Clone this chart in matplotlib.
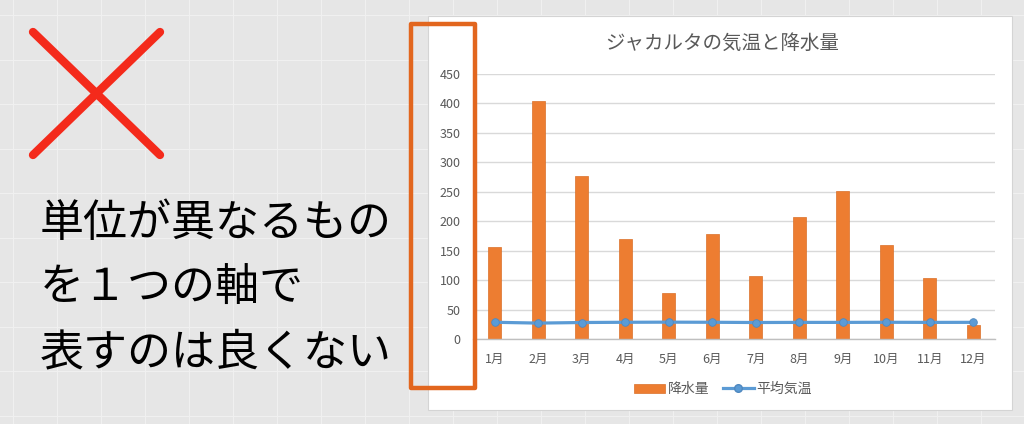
import numpy as np
import matplotlib
import matplotlib.pyplot as plt
from matplotlib.lines import Line2D
from matplotlib.patches import Patch, Rectangle

matplotlib.use("Agg")
plt.rcParams["font.family"] = ["Noto Sans CJK JP", "DejaVu Sans"]

W, H = 1024, 424

# data
months = ["1月", "2月", "3月", "4月", "5月", "6月", "7月", "8月", "9月", "10月", "11月", "12月"]
rain = [157, 405, 277, 169, 78, 178, 107, 208, 252, 159, 104, 23]
temp = [28.4, 27.0, 28.0, 28.4, 28.6, 28.4, 28.0, 28.2, 28.2, 28.4, 28.2, 28.3]
yticks = [0, 50, 100, 150, 200, 250, 300, 350, 400, 450]

title = "ジャカルタの気温と降水量"
message = ["単位が異なるもの", "を１つの軸で", "表すのは良くない"]

ORANGE = "#ED7D31"
BLUE = "#5B9BD5"
GRAY_TXT = "#595959"


def fx(x):
    return x / W


def fy(y):
    return 1 - y / H


fig = plt.figure(figsize=(W / 100, H / 100), dpi=100)
fig.patch.set_facecolor("#E6E6E6")

# spreadsheet-like background grid
for x in np.arange(13, W, 44):
    fig.add_artist(Line2D([fx(x), fx(x)], [0, 1], color="#F0F0F0", lw=0.8, zorder=-3))
for y in np.arange(15, H, 44.5):
    fig.add_artist(Line2D([0, 1], [fy(y), fy(y)], color="#F0F0F0", lw=0.8, zorder=-3))

# white chart panel
fig.add_artist(Rectangle((fx(428), fy(410)), fx(1012 - 428), (410 - 16) / H,
                         facecolor="white", edgecolor="#D4D4D4", lw=0.8, zorder=-1))

# red cross
for (x0, y0), (x1, y1) in [((33, 32), (160, 155)), ((160, 32), (33, 155))]:
    fig.add_artist(Line2D([fx(x0), fx(x1)], [fy(y0), fy(y1)], color="#F42A1B",
                          lw=6, solid_capstyle="round", zorder=2))

# message text
for line, yc in zip(message, [223, 288, 352]):
    fig.text(fx(40), fy(yc), line, fontsize=31.7, color="black", ha="left", va="center")

# chart
ax = fig.add_axes([fx(473), fy(339), fx(995 - 473), (339 - 74) / H])
ax.patch.set_alpha(0)
x = np.arange(len(months))
ax.bar(x, rain, width=0.29, color=ORANGE, edgecolor="#DA7029", lw=0.5, zorder=2)
ax.plot(x, temp, color=BLUE, lw=2.3, marker="o", markersize=5.5,
        markeredgecolor="#4F88BF", markeredgewidth=0.6, zorder=3)
ax.set_xlim(-0.5, len(months) - 0.5)
ax.set_ylim(0, 450)
ax.set_yticks(yticks)
ax.set_xticks(x)
ax.set_xticklabels(months)
ax.yaxis.grid(True, color="#D9D9D9", lw=1.0, zorder=0)
ax.set_axisbelow(True)
for side in ["top", "right", "left"]:
    ax.spines[side].set_visible(False)
ax.spines["bottom"].set_color("#BFBFBF")
ax.spines["bottom"].set_linewidth(1.0)
ax.tick_params(axis="y", length=0, pad=9, labelsize=9, labelcolor=GRAY_TXT)
ax.tick_params(axis="x", length=0, pad=10, labelsize=9, labelcolor=GRAY_TXT)

fig.text(fx(722), fy(43), title, fontsize=14, color=GRAY_TXT, ha="center", va="center")

handles = [
    Patch(facecolor=ORANGE, edgecolor="#DA7029", lw=0.5, label="降水量"),
    Line2D([0], [0], color=BLUE, lw=2.3, marker="o", markersize=5.5,
           markeredgecolor="#4F88BF", label="平均気温"),
]
fig.legend(handles=handles, loc="center", bbox_to_anchor=(fx(723), fy(389)), ncol=2,
           frameon=False, fontsize=10, labelcolor=GRAY_TXT, handlelength=2.2,
           handleheight=0.6, handletextpad=0.2, columnspacing=1.0)

# highlight box around the y axis
fig.add_artist(Rectangle((fx(411), fy(388)), fx(475 - 411), (388 - 24) / H,
                         facecolor="none", edgecolor="#E2661E", lw=3.2,
                         joinstyle="round", zorder=10))

fig.savefig("out.png", dpi=100, facecolor=fig.get_facecolor())
